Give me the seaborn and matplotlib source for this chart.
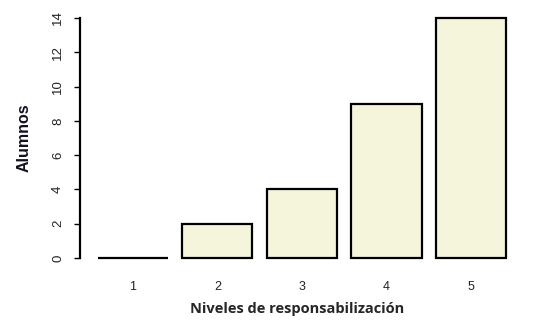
import matplotlib
matplotlib.use('Agg')
import matplotlib.pyplot as plt
import pandas as pd
import seaborn as sns

# data
niveles = ['1', '2', '3', '4', '5']
alumnos = [0, 2, 4, 9, 14]
y_ticks = [0, 2, 4, 6, 8, 10, 12, 14]

df = pd.DataFrame({'Nivel': niveles, 'Alumnos': alumnos})

sns.set_style('white')
plt.rcParams['font.family'] = ['Liberation Sans', 'DejaVu Sans']

fig = plt.figure(figsize=(5.43, 3.29), dpi=100)
# axes placed in pixels: left 80, right 515, top 14, bottom 262
ax = fig.add_axes([80 / 543, (329 - 262) / 329, (515 - 80) / 543, (262 - 14) / 329])

sns.barplot(data=df, x='Nivel', y='Alumnos', color='#F5F5DC',
            edgecolor='black', linewidth=1.6, width=0.83,
            saturation=1, ax=ax)

ax.set_xlim(-0.624, 4.518)
ax.set_ylim(-0.233, 14.233)
ax.set_yticks(y_ticks)
ax.set_yticklabels([str(t) for t in y_ticks], rotation=90, va='center',
                   fontsize=9.5, color='#222222')
ax.tick_params(axis='y', length=4.5, width=1, color='black', pad=7, left=True)
ax.tick_params(axis='x', length=0, pad=14, labelsize=9, labelcolor='#222222')

for s in ['top', 'right', 'bottom']:
    ax.spines[s].set_visible(False)
ax.spines['left'].set_bounds(0, 14)
ax.spines['left'].set_linewidth(1.6)
ax.spines['left'].set_color('black')

ax.set_xlabel('Niveles de responsabilización', fontsize=10.5,
              fontweight='bold', family=['Open Sans', 'DejaVu Sans'], labelpad=6)
ax.set_ylabel('Alumnos', fontsize=11.5, fontweight='bold', color='#111122',
              labelpad=15)

fig.savefig('out.png', dpi=100, facecolor='white')
